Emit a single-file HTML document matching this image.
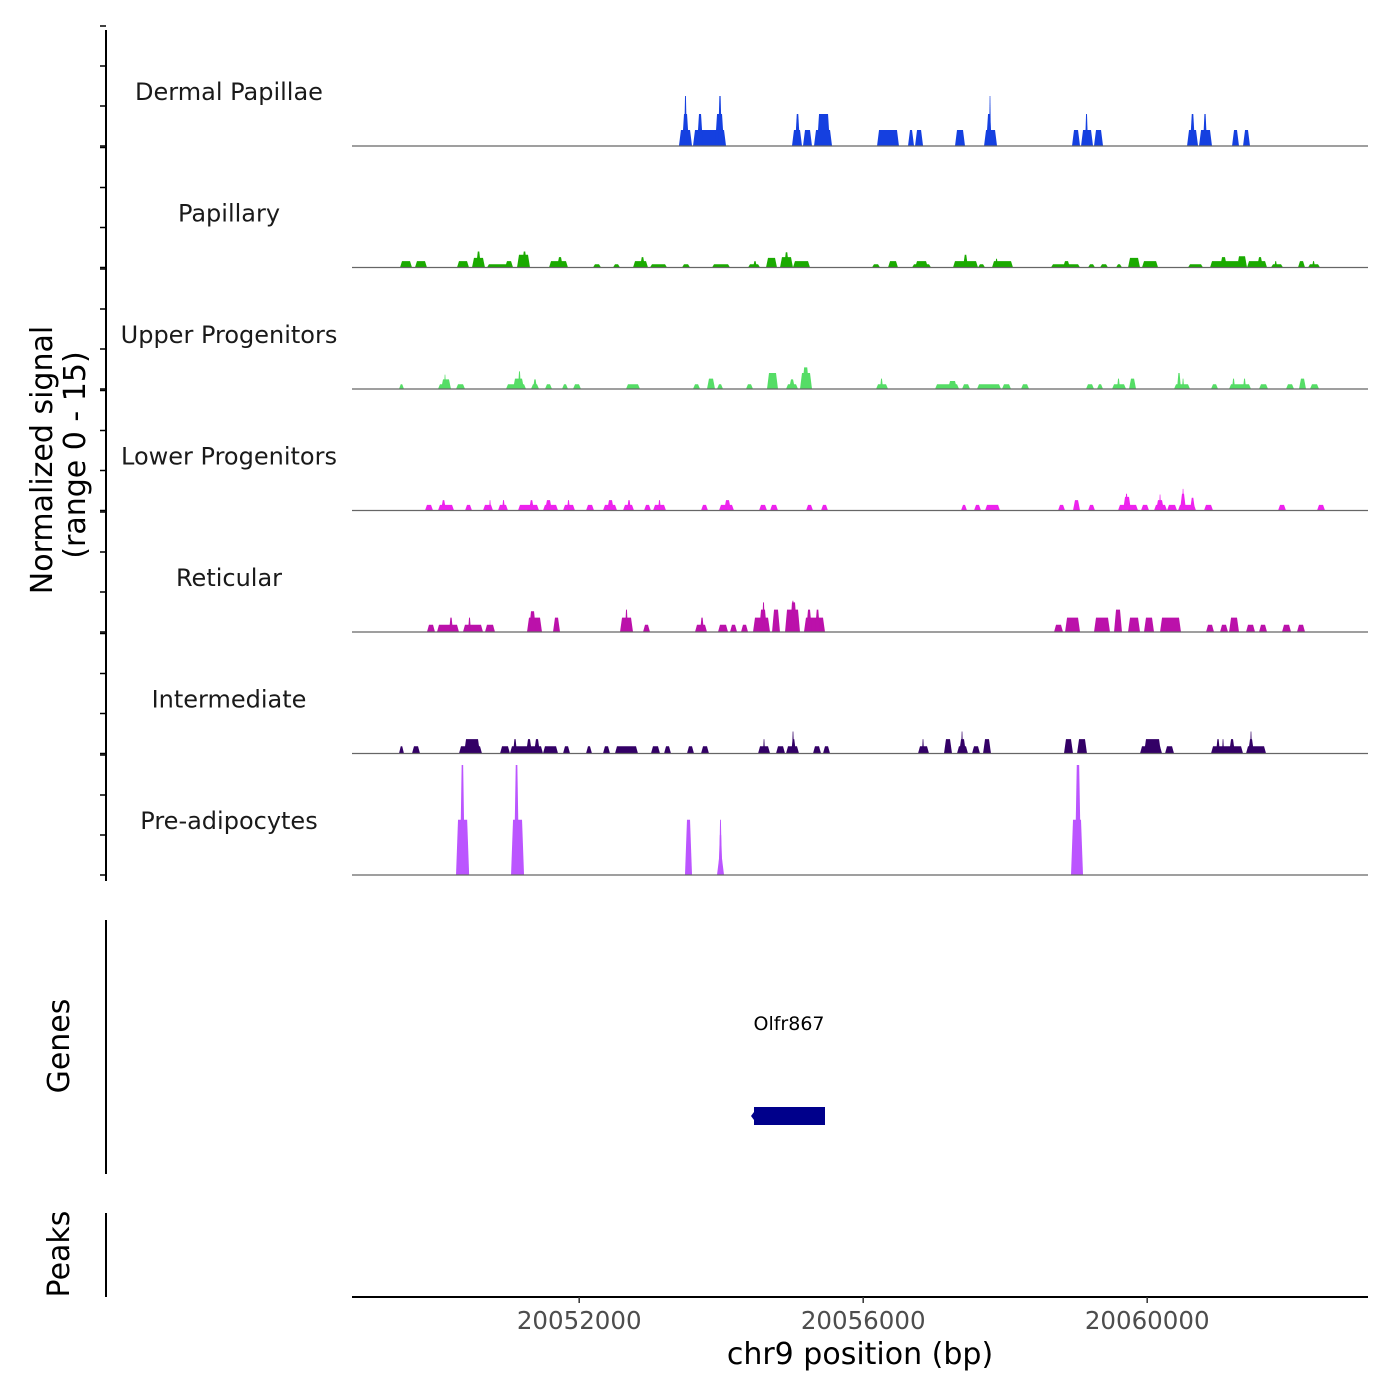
<!DOCTYPE html>
<html><head><meta charset="utf-8">
<style>
html,body{margin:0;padding:0;background:#fff;}
svg{display:block;font-family:"DejaVu Sans","Liberation Sans",sans-serif;}
</style></head>
<body>
<svg id="chart" width="1400" height="1400" viewBox="0 0 1400 1400" xmlns="http://www.w3.org/2000/svg">
  <rect x="0" y="0" width="1400" height="1400" fill="#fff"/>
  <g id="tracks"></g>
  <g id="yaxis"></g>
  <text transform="translate(52,460) rotate(-90)" text-anchor="middle" font-size="30" fill="#000">Normalized signal</text>
  <text transform="translate(85,455) rotate(-90)" text-anchor="middle" font-size="30" fill="#000">(range 0 - 15)</text>
  <line x1="106" y1="920" x2="106" y2="1174" stroke="#000" stroke-width="2"/>
  <text transform="translate(69,1046) rotate(-90)" text-anchor="middle" font-size="30" fill="#000">Genes</text>
  <text x="789" y="1030" text-anchor="middle" font-size="19" fill="#000">Olfr867</text>
  <g id="genes"></g>
  <line x1="106" y1="1213" x2="106" y2="1297" stroke="#000" stroke-width="2"/>
  <text transform="translate(69,1254) rotate(-90)" text-anchor="middle" font-size="30" fill="#000">Peaks</text>
  <g id="xaxis"></g>
  <text x="860" y="1364" text-anchor="middle" font-size="30" fill="#000">chr9 position (bp)</text>
</svg>
<script>
const regionStart = 20048800;
const regionEnd = 20063110;
const xTicks = [20052000, 20056000, 20060000];
const xTickLabels = ["20052000", "20056000", "20060000"];
const trackNames = ["Dermal Papillae","Papillary","Upper Progenitors","Lower Progenitors","Reticular","Intermediate","Pre-adipocytes"];
const trackColors = ["#1540E0","#1AAA00","#55DD66","#EE22EE","#BB11AA","#330066","#BB55FF"];
const yTicks = [0,5,10,15];
// peaks: [startOffsetBp, endOffsetBp, signal]
const dermal = [[4605,4789,2],[4648,4747,4],[4676,4718,6.25],[4803,5268,2],[4859,4944,4],[5113,5240,4],[5155,5211,6.25],
[6197,6338,2],[6240,6310,4],[6352,6479,2],[6507,6761,2],[6550,6733,4],[7395,7704,2],[7831,7916,2],[7930,8043,2],[8493,8634,2],
[8902,9085,2],[8930,9014,4],[8972,9000,6.25],[10141,10254,2],[10268,10437,2],[10324,10367,4],[10451,10578,2],
[11761,11916,2],[11803,11874,4],[11930,12113,2],[11986,12043,4],[12395,12493,2],[12550,12648,2]];
const papillary = [[676,845,0.8],[887,1056,0.8],[1479,1648,0.8],[1690,1873,1.2],[1747,1817,2],[1901,2268,0.4],[2155,2268,0.8],
[2324,2507,1.6],[2394,2465,2],[2775,3042,0.8],[2887,2972,1.3],[3394,3507,0.4],[3676,3775,0.4],[3958,4169,0.8],[4056,4127,1.3],
[4197,4437,0.4],[4648,4761,0.4],[5071,5324,0.4],[5578,5747,0.4],[5648,5704,0.8],[5831,5986,1.2],[6028,6211,1.3],[6085,6155,1.9],
[6211,6451,0.8],[7324,7437,0.4],[7550,7690,0.8],[7888,8155,0.4],[7930,8113,0.8],[8465,8817,0.8],[8606,8676,1.6],[8817,8916,0.4],
[9014,9310,0.8],[9057,9099,1.1],[9845,10254,0.4],[10014,10113,0.8],[10367,10465,0.4],[10536,10648,0.4],[10761,10845,0.4],
[10930,11099,1.2],[11127,11353,0.8],[11775,11986,0.4],[12085,12507,0.8],[12226,12324,1.3],[12465,12606,1.4],[12606,12888,0.8],
[12747,12831,1.3],[12944,13113,0.4],[12990,13030,0.8],[13324,13423,0.8],[13465,13634,0.4],[13522,13564,0.8]];
const upper = [[662,732,0.6],[1211,1394,0.6],[1254,1394,1.2],[1296,1324,1.8],[1465,1592,0.6],[2169,2451,0.6],[2268,2423,1.3],[2338,2380,2.2],
[2521,2634,0.6],[2549,2606,1.2],[2718,2817,0.6],[2958,3042,0.6],[3113,3225,0.6],[3859,4056,0.6],[4803,4902,0.6],[5000,5113,1.3],
[5141,5226,0.6],[5549,5648,0.6],[5845,6000,2],[6113,6282,0.6],[6155,6240,1.2],[6310,6479,2],[6340,6440,2.7],[7381,7550,0.6],[7437,7479,1.3],
[8212,8550,0.6],[8395,8521,1.0],[8592,8705,0.6],[8803,9141,0.6],[9155,9282,0.6],[9423,9536,0.6],[10338,10451,0.6],[10493,10578,0.6],
[10705,10902,0.6],[10775,10817,1.3],[10944,11043,1.3],[11578,11803,0.6],[11620,11676,2.0],[11690,11720,1.3],[12099,12198,0.6],
[12353,12662,0.6],[12395,12437,1.3],[12550,12592,1.3],[12775,12902,0.6],[13155,13268,0.6],[13338,13437,1.3],[13493,13620,0.6]];
const lower = [[1028,1141,0.7],[1211,1437,0.7],[1254,1324,1.3],[1592,1690,0.7],[1845,1986,0.7],[1930,1958,1.3],[2056,2197,0.7],[2113,2155,1.3],
[2338,2634,0.7],[2493,2563,1.3],[2690,2902,0.7],[2718,2817,1.3],[2972,3141,0.7],[3028,3071,1.3],[3296,3409,0.7],[3535,3733,0.7],[3592,3690,1.3],
[3817,3972,0.7],[3873,3930,1.3],[4113,4211,0.7],[4240,4423,0.7],[4310,4352,1.3],[4916,5014,0.7],[5169,5380,0.7],[5240,5338,1.3],
[5733,5845,0.7],[5888,6000,0.7],[6395,6493,0.7],[6606,6704,0.7],[8578,8662,0.7],[8761,8859,0.7],[8916,9127,0.7],[9944,10043,0.7],
[10155,10254,1.3],[10367,10465,0.7],[10789,11071,0.7],[10860,10972,1.7],[10888,10930,2.1],[11113,11226,0.7],[11296,11479,0.7],[11324,11437,1.3],
[11367,11395,2],[11479,11620,0.7],[11634,11888,0.7],[11662,11747,2.1],[11691,11719,2.7],[11803,11874,1.6],[12000,12127,0.7],[13043,13155,0.7],[13592,13705,0.7]];
const reticular = [[1056,1169,0.9],[1197,1507,0.9],[1366,1423,1.8],[1563,1845,0.9],[1634,1676,1.8],[1873,2014,0.9],[2465,2676,1.8],[2493,2592,2.6],
[2831,2930,1.8],[3775,3958,1.8],[3845,3887,2.8],[4099,4197,0.9],[4831,5000,0.9],[4902,4958,1.8],[5155,5296,0.9],[5324,5423,0.9],[5479,5578,0.9],
[5648,5888,1.8],[5733,5845,2.8],[5775,5817,3.7],[5916,6028,2.8],[6099,6310,2.8],[6169,6268,3.7],[6190,6230,3.9],[6366,6662,1.8],[6395,6479,2.8],[6521,6592,2.8],
[9888,10014,0.9],[10043,10254,1.8],[10451,10676,1.8],[10733,10845,2.8],[10930,11099,1.8],[11155,11296,1.8],[11381,11676,1.8],
[12029,12141,0.9],[12226,12338,0.9],[12353,12493,1.8],[12592,12719,0.9],[12775,12888,0.9],[13099,13226,0.9],[13310,13423,0.9]];
const intermediate = [[662,732,0.9],[845,958,0.9],[1507,1831,0.9],[1578,1803,1.8],[2085,2225,0.9],[2225,2690,0.9],[2268,2324,1.8],[2451,2535,1.8],
[2563,2648,1.8],[2690,2902,0.9],[2972,3071,0.9],[3296,3380,0.9],[3535,3634,0.9],[3704,4028,0.9],[4211,4338,0.9],[4395,4493,0.9],[4718,4817,0.9],
[4916,5028,0.9],[5719,5888,0.9],[5789,5817,1.8],[5972,6099,0.9],[6113,6296,0.9],[6183,6254,1.8],[6197,6226,2.75],[6493,6606,0.9],[6634,6733,0.9],
[7972,8127,0.9],[8028,8057,1.8],[8338,8451,1.8],[8521,8676,0.9],[8550,8648,1.8],[8578,8606,2.75],[8733,8845,0.9],[8888,9000,1.8],
[10028,10155,1.8],[10212,10352,1.8],[11099,11409,0.9],[11155,11395,1.8],[11451,11578,0.9],[12099,12550,0.9],[12169,12226,1.8],[12254,12282,1.8],
[12353,12437,1.8],[12592,12874,0.9],[12620,12705,1.8],[12648,12676,2.75]];
const preadipocytes = [[1465,1650,6.9],[1520,1590,13.75],[2240,2423,6.9],[2280,2355,13.75],[4690,4789,6.9],[5141,5240,2],[5160,5220,5],[5170,5210,6.9],
[10127,10296,6.9],[10180,10270,13.75]];
const trackData = [dermal,papillary,upper,lower,reticular,intermediate,preadipocytes];
const geneStart = 20054462;
const geneEnd = 20055462;

const NS = "http://www.w3.org/2000/svg";
const X0 = 352, X1 = 1368;
function xScale(bp){ return X0 + (bp - regionStart) / (regionEnd - regionStart) * (X1 - X0); }
function baseY(i){ return 146 + i * 121.5; }
function yScale(i, v){ return baseY(i) - v * 8; }
function mk(tag, attrs, parent){ const e=document.createElementNS(NS,tag); for(const k in attrs) e.setAttribute(k,attrs[k]); parent.appendChild(e); return e; }

const tracksG = document.getElementById('tracks');
trackNames.forEach((name, i) => {
  const g = mk('g', {}, tracksG);
  
  
  const lbl = mk('text', {x:229, y:baseY(i)-46, 'text-anchor':'middle', 'font-size':24, fill:'#1a1a1a'}, g);
  lbl.textContent = name;
  
  
  trackData[i].forEach(p => {
    const xs = xScale(regionStart + p[0]), xe = xScale(regionStart + p[1]);
    const d = Math.min(2, (xe - xs) * 0.35);
    const yb = yScale(i, 0), yt = yScale(i, p[2]);
    const poly = mk('polygon', {points: `${xs},${yb} ${xs+d},${yt} ${xe-d},${yt} ${xe},${yb}`, fill: trackColors[i]}, g);
    
    
  });
  const bl = mk('line', {x1:X0, x2:X1, y1:baseY(i), y2:baseY(i), stroke:'#666', 'stroke-width':1.2}, g);
  
  
});

const yaxis = document.getElementById('yaxis');
const yl = mk('line', {x1:106, x2:106, y1:30, y2:881, stroke:'#000', 'stroke-width':2}, yaxis);


trackNames.forEach((n, i) => {
  yTicks.forEach(v => {
    const t = mk('line', {x1:100, x2:106, y1:yScale(i, v), y2:yScale(i, v), stroke:'#000', 'stroke-width':1.5}, yaxis);
    
    
  });
});

const genes = document.getElementById('genes');
const gx0 = xScale(geneStart), gx1 = xScale(geneEnd);
const gbar = mk('rect', {x:gx0, y:1107, width:gx1-gx0, height:18, fill:'#00008B'}, genes);


const garr = mk('polygon', {points:`${gx0-3},1116 ${gx0},1112 ${gx0},1120`, fill:'#00008B'}, genes);



const xaxis = document.getElementById('xaxis');
const xl = mk('line', {x1:X0, x2:X1, y1:1297, y2:1297, stroke:'#000', 'stroke-width':2}, xaxis);


xTicks.forEach((t, k) => {
  const x = xScale(t);
  const tk = mk('line', {x1:x, x2:x, y1:1297, y2:1303, stroke:'#333', 'stroke-width':1.5}, xaxis);
  
  
  const lb = mk('text', {x:x, y:1329, 'text-anchor':'middle', 'font-size':24.5, fill:'#4d4d4d'}, xaxis);
  lb.textContent = xTickLabels[k];
  
  
});
</script>
</body></html>
